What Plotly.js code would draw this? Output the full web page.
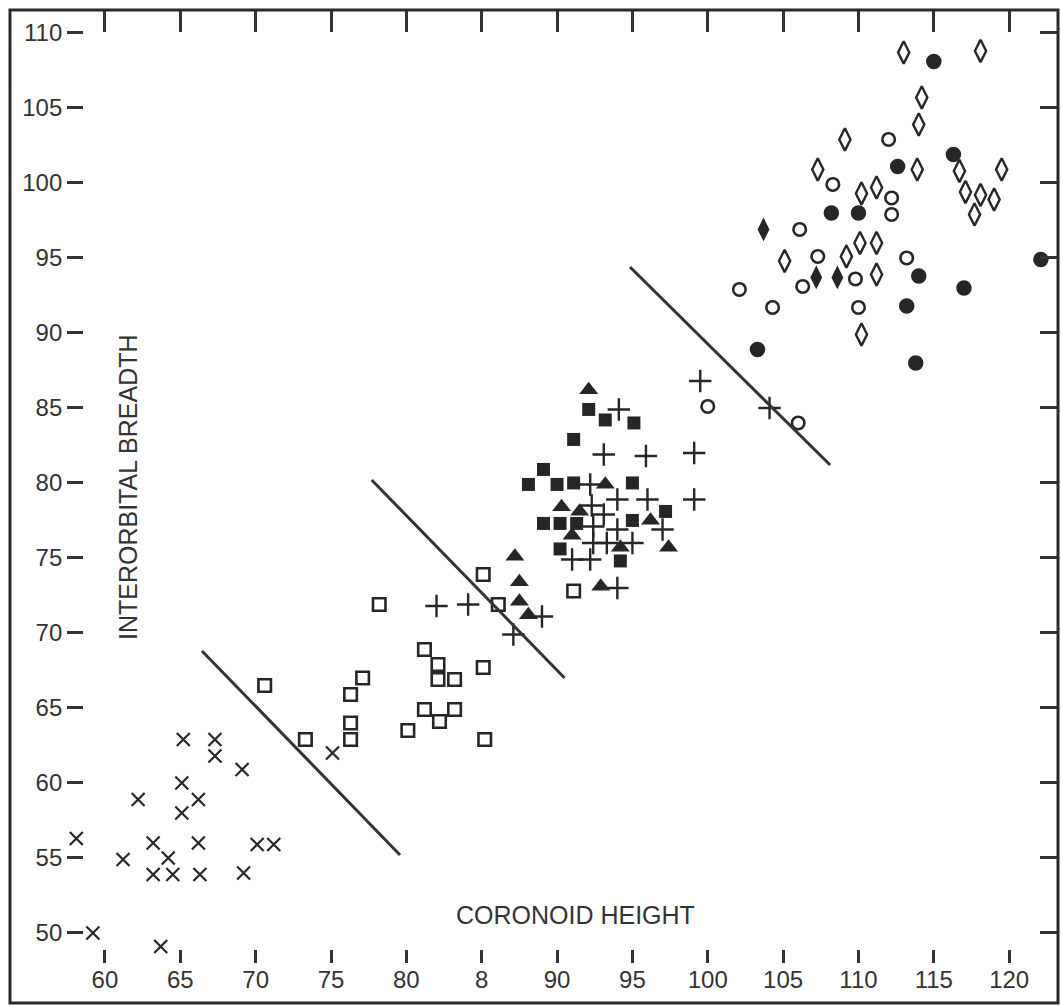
<!DOCTYPE html>
<html>
<head>
<meta charset="utf-8">
<script src="https://cdn.plot.ly/plotly-3.0.1.min.js"></script>
<style>html,body{margin:0;padding:0;background:#fff;}#chart{width:1061px;height:1006px;}</style>
</head>
<body>
<div id="chart"></div>
<script>
// ---- data ----
const xTickVals = [60,65,70,75,80,85,90,95,100,105,110,115,120];
const xTickText = ['60','65','70','75','80','8','90','95','100','105','110','115','120'];
const yTickVals = [50,55,60,65,70,75,80,85,90,95,100,105,110];
const yTickText = ['50','55','60','65','70','75','80','85','90','95','100','105','110'];

const crossX = [58.1,59.2,61.2,62.2,63.2,63.2,63.7,64.2,64.5,65.1,65.1,65.2,66.2,66.2,66.3,67.3,67.3,69.1,69.2,70.1,71.2,75.1];
const crossY = [56.3,50.0,54.9,58.9,56.0,53.9,49.1,55.0,53.9,60.0,58.0,62.9,58.9,56.0,53.9,62.9,61.8,60.9,54.0,55.9,55.9,62.0];

const openSqX = [70.6,73.3,76.3,76.3,76.3,77.1,78.2,80.1,81.2,81.2,82.1,82.1,82.2,83.2,83.2,85.1,85.1,85.2,86.1,91.1];
const openSqY = [66.5,62.9,65.9,64.0,62.9,67.0,71.9,63.5,68.9,64.9,67.9,66.9,64.1,66.9,64.9,73.9,67.7,62.9,71.9,72.8];

const plusX = [82.0,84.1,87.1,89.0,91.0,92.2,92.2,92.3,92.4,92.4,93.1,93.1,93.3,94.0,94.0,94.0,94.1,95.0,95.9,96.0,97.0,99.1,99.1,99.5,104.1];
const plusY = [71.8,71.9,69.9,71.1,74.9,74.9,79.9,78.5,77.1,76.0,81.9,77.9,76.0,78.9,76.9,73.0,84.9,76.0,81.8,78.9,76.9,82.0,78.9,86.8,85.0];

const triX = [87.2,87.5,87.5,88.1,90.3,91.0,91.5,92.1,92.9,93.2,94.2,96.2,97.4];
const triY = [75.1,73.4,72.1,71.2,78.4,76.5,78.1,86.2,73.1,79.9,75.7,77.5,75.7];

const fillSqX = [88.1,89.1,89.1,90.0,90.2,90.2,91.1,91.1,91.3,92.1,93.2,94.2,95.0,95.0,95.1,97.2];
const fillSqY = [79.9,80.9,77.3,79.9,77.3,75.6,82.9,80.0,77.3,84.9,84.2,74.8,80.0,77.5,84.0,78.1];

const openCircX = [100.0,102.1,104.3,106.0,106.1,106.3,107.3,108.3,109.8,110.0,112.0,112.2,112.2,113.2];
const openCircY = [85.1,92.9,91.7,84.0,96.9,93.1,95.1,99.9,93.6,91.7,102.9,99.0,97.9,95.0];

const fillCircX = [103.3,108.2,110.0,112.6,113.2,113.8,114.0,115.0,116.3,117.0,122.1];
const fillCircY = [88.9,98.0,98.0,101.1,91.8,88.0,93.8,108.1,101.9,93.0,94.9];

const openDiaX = [105.1,107.3,109.1,109.2,110.1,110.2,110.2,111.2,111.2,111.2,113.0,113.9,114.0,114.2,116.7,117.1,117.7,118.1,118.1,119.0,119.5];
const openDiaY = [94.8,100.9,102.9,95.1,96.0,99.3,89.9,99.7,96.0,93.9,108.7,100.9,103.9,105.7,100.8,99.4,97.9,108.8,99.2,98.9,100.9];

const fillDiaX = [103.7,107.2,108.6];
const fillDiaY = [96.9,93.7,93.7];

// dividing lines (endpoints)
const line1X = [66.44,79.58], line1Y = [68.8,55.2];
const line2X = [77.7,90.5],   line2Y = [80.2,67.0];
const line3X = [94.84,108.12], line3Y = [94.4,81.2];

// ---- styling ----
const INK = '#262626';
const xRange = [53.70,123.24];
const yRange = [45.33,111.53];
const font = 'Liberation Sans, Arial, sans-serif';

function pts(x,y,symbol,size,lw){
  return {type:'scatter',mode:'markers',x:x,y:y,hoverinfo:'skip',showlegend:false,cliponaxis:false,
    marker:{symbol:symbol,size:size,color:INK,line:{color:INK,width:lw}}};
}
function seg(x,y){
  return {type:'scatter',mode:'lines',x:x,y:y,xaxis:'x2',yaxis:'y2',hoverinfo:'skip',showlegend:false,
    line:{color:'#333',width:3}};
}

const data = [
  seg(line1X,line1Y), seg(line2X,line2Y), seg(line3X,line3Y),
  pts(crossX,crossY,'x-thin',13,2.2),
  pts(openSqX,openSqY,'square-open',12.5,2.6),
  pts(plusX,plusY,'cross-thin',16,2.4),
  pts(triX,triY,'triangle-up',16.5,0),
  pts(fillSqX,fillSqY,'square',13,0),
  pts(openCircX,openCircY,'circle-open',12.5,2.6),
  pts(fillCircX,fillCircY,'circle',15.5,0),
  pts(openDiaX,openDiaY,'diamond-tall-open',16,2.4),
  pts(fillDiaX,fillDiaY,'diamond-tall',17,0)
];

const layout = {
  width:1061, height:1006,
  margin:{l:10,r:3,t:10,b:3,pad:0},
  paper_bgcolor:'#fff', plot_bgcolor:'#fff',
  showlegend:false,
  xaxis:{range:xRange, domain:[0,1], anchor:'free', position:0.0403,
    tickmode:'array', tickvals:xTickVals, ticktext:xTickText,
    ticks:'inside', ticklen:13, tickwidth:3, tickcolor:'#333',
    showline:false, showgrid:false, zeroline:false,
    tickfont:{family:font,size:24,color:'#333'}, fixedrange:true},
  yaxis:{range:yRange, domain:[0,1], anchor:'free', position:0.0697,
    tickmode:'array', tickvals:yTickVals, ticktext:yTickText,
    ticks:'outside', ticklen:16, tickwidth:3, tickcolor:'#333',
    showline:false, showgrid:false, zeroline:false,
    tickfont:{family:font,size:24,color:'#333'}, fixedrange:true},
  xaxis2:{range:xRange, overlaying:'x', side:'top', anchor:'y2',
    tickmode:'array', tickvals:xTickVals, showticklabels:false,
    ticks:'inside', ticklen:22, tickwidth:3, tickcolor:'#333',
    showline:false, showgrid:false, zeroline:false, fixedrange:true},
  yaxis2:{range:yRange, overlaying:'y', side:'right', anchor:'x2',
    tickmode:'array', tickvals:yTickVals, showticklabels:false,
    ticks:'inside', ticklen:18, tickwidth:3, tickcolor:'#333',
    showline:false, showgrid:false, zeroline:false, fixedrange:true},
  shapes:[{type:'rect',xref:'paper',yref:'paper',x0:0,x1:1,y0:0,y1:1,line:{color:'#2a2a2a',width:3}}],
  annotations:[
    {text:'CORONOID HEIGHT',xref:'paper',yref:'paper',x:0.540,y:0.0886,showarrow:false,
      xanchor:'center',yanchor:'middle',font:{family:font,size:25,color:'#333'}},
    {text:'INTERORBITAL BREADTH',xref:'paper',yref:'paper',x:0.1126,y:0.5196,showarrow:false,
      textangle:-90,xanchor:'center',yanchor:'middle',font:{family:font,size:25,color:'#333'}}
  ]
};

Plotly.newPlot('chart', data, layout, {staticPlot:true, displayModeBar:false});
</script>
</body>
</html>
